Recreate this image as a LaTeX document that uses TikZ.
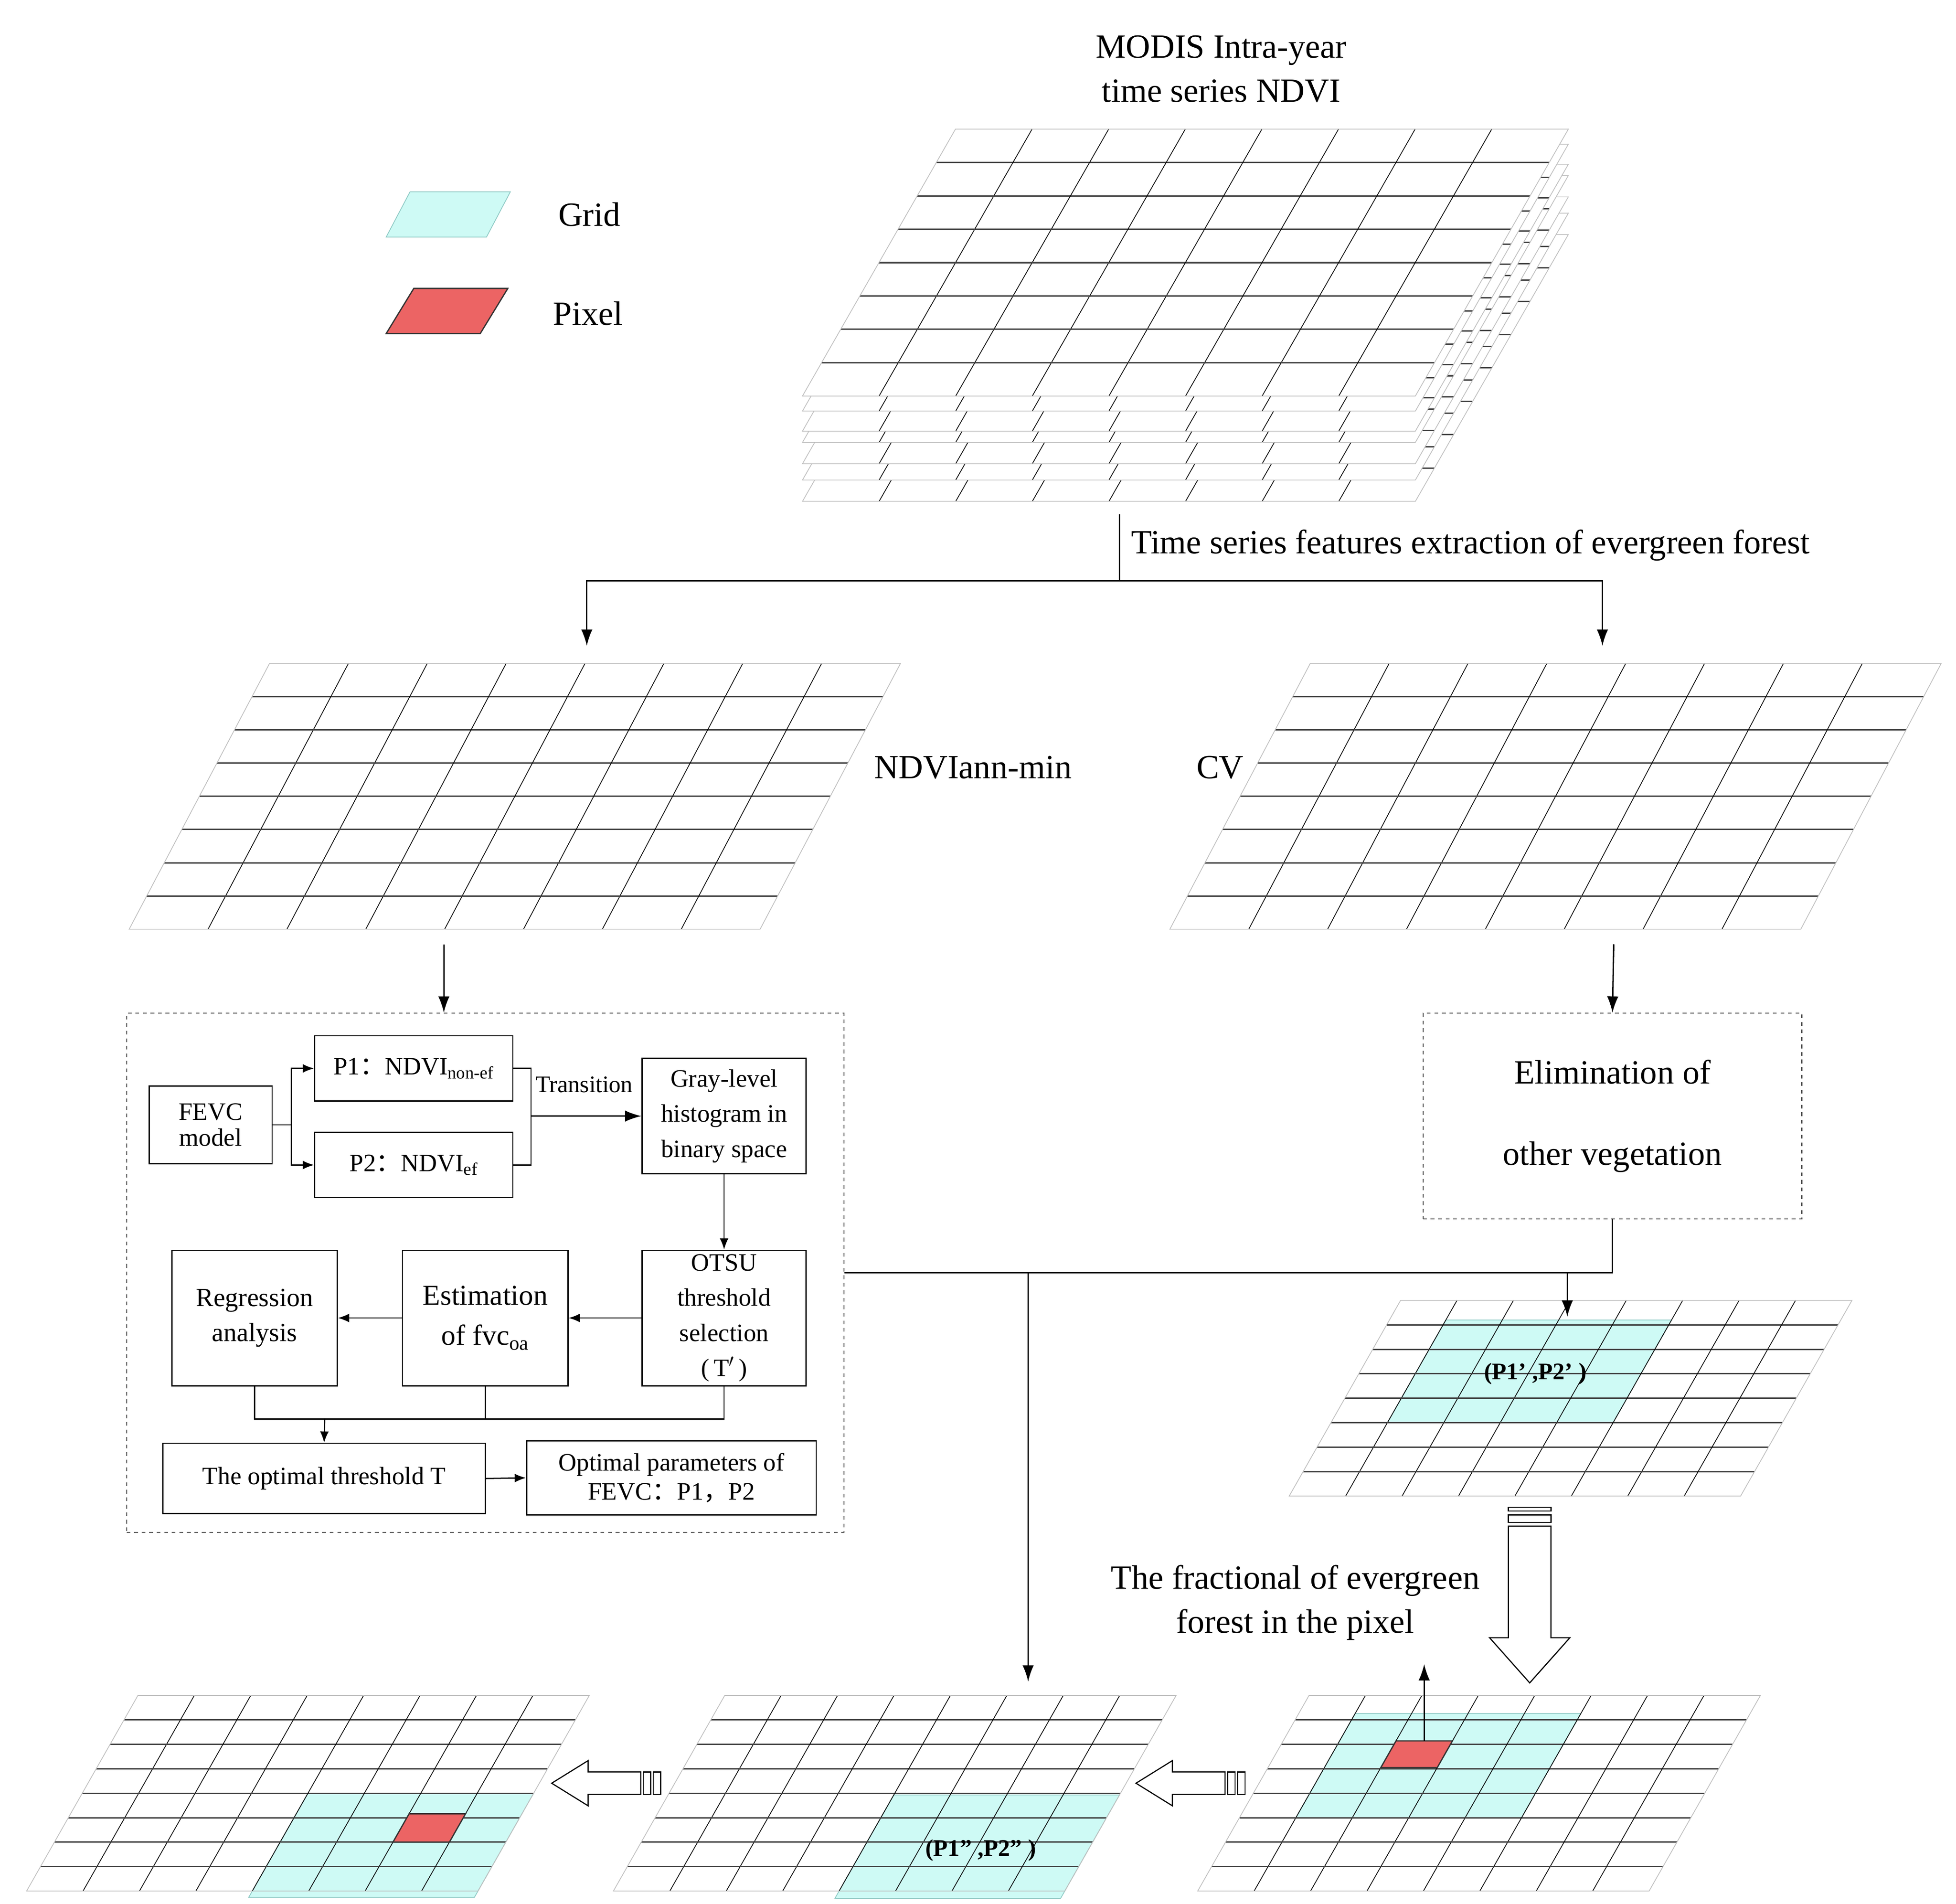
\documentclass[tikz,border=0pt]{standalone}
\usepackage{fontspec}
\setmainfont{Liberation Serif}
\newfontfamily\cjk{Noto Sans CJK SC}
\usetikzlibrary{arrows.meta}
\definecolor{gcyan}{RGB}{206,250,245}
\definecolor{gcyanb}{RGB}{140,200,195}
\definecolor{gred}{RGB}{236,100,100}
\newcommand\gridbg{\fill[white] (0,0)--(8,0)--(8,8)--(0,8)--cycle;}
\newcommand\gridfg{\foreach \i in {1,...,7}{\draw[hl] (0,\i)--(8,\i); \draw[vl] (\i,0)--(\i,8);}
  \draw[edge] (0,0)--(8,0)--(8,8)--(0,8)--cycle;}
\tikzset{
  gframe/.style n args={5}{shift={(#1pt,{-(#2)*1pt})},x={(#3pt,0pt)},y={(-#4pt,-#5pt)}},
  hl/.style={draw=black!75,line width=1.1pt},
  vl/.style={draw=black,line width=0.6pt},
  edge/.style={draw=black!25,line width=0.6pt},
  cy/.style={fill=gcyan,draw=gcyanb,line width=0.6pt},
  rd/.style={fill=gred,draw=black!80,line width=1pt},
  arr/.style={-{Latex[length=13pt,width=9pt]},line width=1.1pt},
  sarr/.style={-{Latex[length=9pt,width=7pt]},line width=1pt},
  lbl/.style={font=\fontsize{27}{35}\selectfont,align=center,inner sep=0pt},
  box/.style={draw,line width=1pt,align=center,inner sep=1pt,font=\fontsize{20}{27}\selectfont},
  dbox/.style={draw=black!70,dashed,line width=0.8pt},
  hollow/.style={draw=black,fill=white,line width=0.9pt},
}
\begin{document}
\begin{tikzpicture}[x=1pt,y=-1pt]
\useasboundingbox[fill=white] (0,0) rectangle (1560,1518);
% legend
\draw[cy] (327,153)--(407,153)--(388,189)--(308,189)--cycle;
\draw[rd] (330,230)--(405,230)--(383,266)--(308,266)--cycle;
\node[lbl] (lg) at (470,171) {Grid};
\node[lbl] (lp) at (469,250) {Pixel};
% title
\node[lbl] (title) at (974,55) {MODIS Intra-year\\time series NDVI};
% stacked grids
\foreach \dy in {84,67,54,37,28,12,0}{
  \begin{scope}[gframe={762}{103+\dy}{61.1}{15.25}{26.6}]
  \gridbg\gridfg
  \end{scope}}
% extraction arrows
\coordinate (tA) at (893,410);
\coordinate (tB) at (893,463);
\coordinate (tLe) at (468,515);
\coordinate (tRe) at (1278,515);
\draw[line width=1.1pt] (tA)--(tB);
\draw[arr] (tB) -| (tLe);
\draw[arr] (tB) -| (tRe);
\node[lbl,anchor=west] (ext) at (902,435) {Time series features extraction of evergreen forest};
% middle grids
\begin{scope}[gframe={215}{529}{62.9}{14}{26.5}]\gridbg\gridfg\end{scope}
\begin{scope}[gframe={1045}{529}{62.9}{14}{26.5}]\gridbg\gridfg\end{scope}
\node[lbl] (ndvi) at (776,612) {NDVIann-min};
\node[lbl] (cv) at (973,612) {CV};
% dashed boxes
\node[dbox,minimum width=572pt,minimum height=414pt] (lbox) at (387,1015) {};
\node[dbox,minimum width=302pt,minimum height=164pt,align=center,font=\fontsize{27}{65}\selectfont] (rbox) at (1286,890) {Elimination of\\other vegetation};
\coordinate (lgA) at (354,753);
\coordinate (rgA) at (1287,753);
\draw[arr] (lgA) -- (lgA |- lbox.north);
\draw[arr] (rgA) -- (rbox.north);
% inner flow
\node[box,minimum width=98pt,minimum height=62pt] (fevc) at (168,897) {FEVC\\[-6pt]model};
\node[box,minimum width=158pt,minimum height=52pt] (p1) at (330,852) {P1{\cjk ：}NDVI\textsubscript{non-ef}};
\node[box,minimum width=158pt,minimum height=52pt] (p2) at (330,929) {P2{\cjk ：}NDVI\textsubscript{ef}};
\node[box,minimum width=131pt,minimum height=92pt,font=\fontsize{20}{28}\selectfont] (gray) at (577.5,890) {Gray-level\\histogram in\\binary space};
\node[box,minimum width=131pt,minimum height=108pt,font=\fontsize{20}{28}\selectfont] (otsu) at (577.5,1051) {OTSU\\threshold\\selection\\(\,T$'$\,)};
\node[box,minimum width=132pt,minimum height=108pt,font=\fontsize{23}{32}\selectfont] (est) at (387,1051) {Estimation\\of fvc\textsubscript{oa}};
\node[box,minimum width=132pt,minimum height=108pt,font=\fontsize{21}{28}\selectfont] (reg) at (203,1051) {Regression\\analysis};
\node[box,minimum width=257pt,minimum height=56pt] (optT) at (258.5,1179) {The optimal threshold T};
\node[box,minimum width=231pt,minimum height=59pt] (optP) at (535.5,1178.5) {Optimal parameters of\\[-4pt]FEVC{\cjk ：}P1{\cjk ，}P2};
\draw[sarr] (fevc.east) -- ++(15,0) |- (p1.west);
\draw[sarr] (fevc.east) -- ++(15,0) |- (p2.west);
\draw[line width=1pt] (p1.east) -- ++(14,0) |- (p2.east);
\coordinate (tj) at (423,890);
\draw[arr] (tj) -- (gray.west);
\node[font=\fontsize{19}{22}\selectfont,inner sep=0pt] (trans) at (466,865) {Transition};
\draw[sarr] (gray.south) -- (otsu.north);
\draw[sarr] (otsu.west) -- (est.east);
\draw[sarr] (est.west) -- (reg.east);
\draw[line width=1pt] (reg.south) -- ++(0,26) -| (otsu.south);
\draw[line width=1pt] (est.south) -- ++(0,26);
\coordinate (bj) at (259,1131);
\draw[sarr] (bj) -- (optT.north);
\draw[sarr] (optT.east) -- (optP.west);
% connection from right box
\coordinate (j1) at (1250,1015);
\coordinate (j1e) at (1250,1050);
\coordinate (j2) at (820,1015);
\coordinate (j2e) at (820,1341);
\draw[line width=1.1pt] (rbox.south) |- (lbox.east);
\draw[arr] (j2) -- (j2e);
% mid-right grid
\begin{scope}[gframe={1117}{1037}{45}{11.1}{19.5}]
\gridbg
\draw[cy] (1,0.8)--(5,0.8)--(5,5)--(1,5)--cycle;
\gridfg
\node[font=\bfseries\fontsize{19}{22}\selectfont] (pp1) at (3.13,3) {(P1’ ,P2’ )};
\end{scope}
\draw[arr] (j1) -- (j1e);
% vertical hollow arrow
\draw[hollow] (1203,1202) rectangle (1237,1205);
\draw[hollow] (1203,1208) rectangle (1237,1214);
\draw[hollow] (1203,1217)--(1237,1217)--(1237,1306)--(1252,1306)--(1220,1342)--(1188,1306)--(1203,1306)--cycle;
\node[lbl] (frac) at (1033,1278) {The fractional of evergreen\\forest in the pixel};
% bottom-right grid
\begin{scope}[gframe={1044}{1352}{45}{11.1}{19.5}]
\gridbg
\draw[cy] (1,0.74)--(5,0.74)--(5,5)--(1,5)--cycle;
\gridfg
\draw[rd] (2,1.86)--(3,1.86)--(3,2.95)--(2,2.95)--cycle;
\coordinate (redtop) at (2.5,1.86);
\end{scope}
\coordinate (pxUp) at (1136,1327);
\draw[arr] (redtop) -- (redtop |- pxUp);
% bottom-middle grid
\begin{scope}[gframe={578}{1352}{45}{11.1}{19.5}]
\gridbg
\draw[cy] (4,4.07)--(8,4.07)--(8,8.3)--(4,8.3)--cycle;
\gridfg
\node[font=\bfseries\fontsize{19}{22}\selectfont] (pp2) at (6.1,6.34) {(P1” ,P2” )};
\end{scope}
% bottom-left grid
\begin{scope}[gframe={110}{1352}{45}{11.1}{19.5}]
\gridbg
\draw[cy] (4,4)--(8,4)--(8,8.26)--(4,8.26)--cycle;
\gridfg
\draw[rd] (6,4.84)--(7,4.84)--(7,6)--(6,6)--cycle;
\end{scope}
% horizontal hollow arrows
\foreach \dx in {0,466}{
\begin{scope}[xshift=\dx pt]
\draw[hollow] (469,1413)--(511,1413)--(511,1431)--(469,1431)--(469,1440)--(440,1422)--(469,1404)--cycle;
\draw[hollow] (513,1413) rectangle (519,1431);
\draw[hollow] (521,1413) rectangle (527,1431);
\end{scope}}
\end{tikzpicture}
\end{document}
